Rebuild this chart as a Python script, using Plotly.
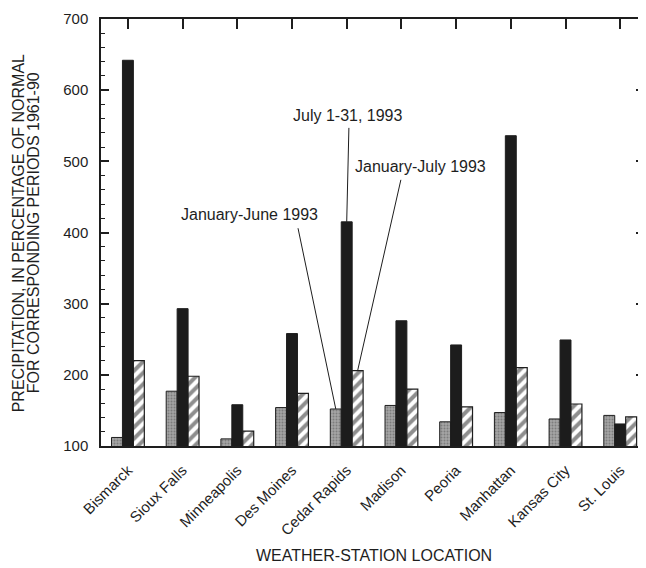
import plotly.graph_objects as go

stations = ["Bismarck", "Sioux Falls", "Minneapolis", "Des Moines", "Cedar Rapids",
            "Madison", "Peoria", "Manhattan", "Kansas City", "St. Louis"]
jan_june = [112, 177, 110, 154, 152, 157, 134, 147, 138, 143]
july = [642, 293, 158, 258, 415, 276, 242, 536, 249, 131]
jan_july = [220, 198, 121, 174, 206, 180, 155, 210, 159, 141]
y_ticks = [100, 200, 300, 400, 500, 600, 700]

FONT = "Liberation Sans, Arial, Helvetica, sans-serif"
INK = "#1e1e1e"
xs = list(range(len(stations)))

fig = go.Figure()
fig.add_trace(go.Bar(
    x=xs, y=jan_june, name="January-June 1993",
    marker=dict(color="#9c9c9c", line=dict(color=INK, width=1),
                pattern=dict(shape=".", fgcolor="#555555", bgcolor="#a4a4a4", size=3, solidity=0.35)),
))
fig.add_trace(go.Bar(
    x=xs, y=july, name="July 1-31, 1993",
    marker=dict(color="#1c1c1c", line=dict(color=INK, width=1)),
))
fig.add_trace(go.Bar(
    x=xs, y=jan_july, name="January-July 1993",
    marker=dict(color="white", line=dict(color=INK, width=1.2),
                pattern=dict(shape="/", fgcolor=INK, bgcolor="white", size=8, solidity=0.5)),
))
# invisible trace to anchor the top tick axis
fig.add_trace(go.Scatter(x=[0], y=[100], xaxis="x2", mode="markers",
                         marker=dict(opacity=0), hoverinfo="skip", showlegend=False))

xr = [-0.492, 9.435]
fig.update_layout(
    width=638, height=560,
    margin=dict(l=93, r=0, t=11, b=122),
    paper_bgcolor="white", plot_bgcolor="white",
    barmode="group", bargap=0.4, bargroupgap=0,
    showlegend=False,
    font=dict(family=FONT, size=15, color=INK),
    xaxis=dict(range=xr, tickmode="array", tickvals=xs, ticktext=stations,
               tickangle=-45, ticks="", showline=True, linecolor=INK, linewidth=1.5,
               showgrid=False, zeroline=False, tickfont=dict(size=15), ticklabelstandoff=8),
    xaxis2=dict(range=xr, overlaying="x", side="top", tickmode="array", tickvals=xs,
                showticklabels=False, ticks="inside", ticklen=10, tickcolor=INK, tickwidth=1.5,
                showline=True, linecolor=INK, linewidth=1.5, showgrid=False, zeroline=False),
    yaxis=dict(range=[100, 700], tickmode="array", tickvals=y_ticks,
               ticks="inside", ticklen=8, tickwidth=1.5, tickcolor=INK,
               minor=dict(dtick=20, ticks="inside", ticklen=4, tickcolor=INK, tickwidth=1),
               showline=True, linecolor=INK, linewidth=1.5, mirror="ticks",
               showgrid=False, zeroline=False, tickfont=dict(size=15), ticklabelstandoff=8),
)

# Leader lines for the Cedar Rapids group (index 4)
ci = 4
lines = [
    (ci + 0.04, 547, ci, july[ci]),
    (ci + 0.99, 474, ci + 0.2, jan_july[ci]),
    (ci - 0.89, 406, ci - 0.2, jan_june[ci]),
]
for x0, y0, x1, y1 in lines:
    fig.add_shape(type="line", xref="x", yref="y", x0=x0, y0=y0, x1=x1, y1=y1,
                  line=dict(color=INK, width=1))

fig.add_annotation(x=ci + 0.03, y=564, xref="x", yref="y", text="July 1-31, 1993",
                   showarrow=False, font=dict(size=16))
fig.add_annotation(x=ci + 1.34, y=493, xref="x", yref="y", text="January-July 1993",
                   showarrow=False, font=dict(size=16))
fig.add_annotation(x=ci - 1.78, y=426, xref="x", yref="y", text="January-June 1993",
                   showarrow=False, font=dict(size=16))

# Axis titles
fig.add_annotation(x=(375 - 101) / 545, y=(446 - 555) / 427, xref="paper", yref="paper",
                   text="WEATHER-STATION LOCATION", showarrow=False,
                   xanchor="center", yanchor="middle", font=dict(size=16))
fig.add_annotation(x=(18 - 101) / 545, y=(446 - 233) / 427, xref="paper", yref="paper",
                   text="PRECIPITATION, IN PERCENTAGE OF NORMAL", textangle=-90, showarrow=False,
                   xanchor="center", yanchor="middle", font=dict(size=16))
fig.add_annotation(x=(33 - 101) / 545, y=(446 - 233) / 427, xref="paper", yref="paper",
                   text="FOR CORRESPONDING PERIODS 1961-90", textangle=-90, showarrow=False,
                   xanchor="center", yanchor="middle", font=dict(size=16))

fig.write_html("out.html")
